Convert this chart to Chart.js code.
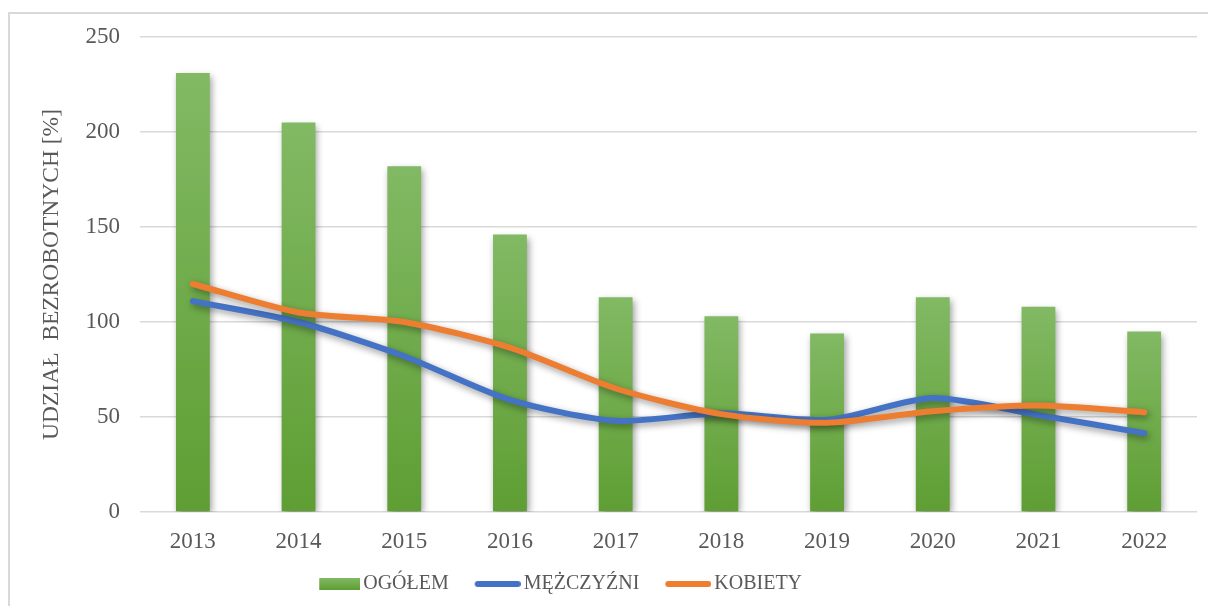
<!DOCTYPE html>
<html>
<head>
<meta charset="utf-8">
<script src="https://cdn.jsdelivr.net/npm/chart.js@4/dist/chart.umd.min.js"></script>
<style>
  html, body { margin: 0; padding: 0; background: #fff; overflow: hidden; }
  #frame { position: absolute; left: 8px; top: 12px; width: 1400px; height: 800px; border: 2px solid #d9d9d9; }
  #wrap { position: absolute; left: 0; top: 0; width: 1208px; height: 606px; }
</style>
</head>
<body>
<div id="frame"></div>
<div id="wrap"><canvas id="chart" width="1208" height="606"></canvas></div>
<script>
// --- data ---
const years = ['2013', '2014', '2015', '2016', '2017', '2018', '2019', '2020', '2021', '2022'];
const ogolem = [231, 205, 182, 146, 113, 103, 94, 113, 108, 95];
const mezczyzni = [111, 100, 82, 59, 48, 52, 48.5, 60, 51, 41.5];
const kobiety = [120, 105, 100, 86.5, 65, 51.5, 47, 53, 56, 52.5];
const yTicks = [0, 50, 100, 150, 200, 250];

const GREEN_TOP = '#82b964';
const GREEN_BOTTOM = '#5e9e33';
const BLUE = '#4472c4';
const ORANGE = '#ed7d31';
const TEXT = '#595959';
const FONT = "'Liberation Serif', 'Times New Roman', serif";

// legend markers (drawn as small canvases, used as point styles)
function makeMarker(kind, color) {
  const c = document.createElement('canvas');
  c.width = 69; c.height = 14;
  const x = c.getContext('2d');
  if (kind === 'box') {
    const g = x.createLinearGradient(0, 1, 0, 13);
    g.addColorStop(0, GREEN_TOP);
    g.addColorStop(1, GREEN_BOTTOM);
    x.fillStyle = g;
    x.fillRect(28, 1, 41, 12);
  } else {
    x.strokeStyle = color;
    x.lineWidth = 6;
    x.lineCap = 'round';
    x.beginPath();
    x.moveTo(26, 7);
    x.lineTo(66, 7);
    x.stroke();
  }
  return c;
}
const markers = [makeMarker('box'), makeMarker('line', BLUE), makeMarker('line', ORANGE)];

function barGradient(ctx) {
  const chart = ctx.chart;
  if (!chart.chartArea || ctx.raw == null) return GREEN_TOP;
  const y = chart.scales.y;
  const g = chart.ctx.createLinearGradient(0, y.getPixelForValue(ctx.raw), 0, y.getPixelForValue(0));
  g.addColorStop(0, GREEN_TOP);
  g.addColorStop(1, GREEN_BOTTOM);
  return g;
}

// soft drop shadow like the office chart
const shadowPlugin = {
  id: 'shadow',
  beforeDatasetDraw(chart) {
    const c = chart.ctx;
    c.save();
    c.shadowColor = 'rgba(0,0,0,0.4)';
    c.shadowBlur = 7;
    c.shadowOffsetX = 2;
    c.shadowOffsetY = 3;
  },
  afterDatasetDraw(chart) {
    chart.ctx.restore();
  }
};

// move the legend block so it sits where the original has it
const legendShift = {
  id: 'legendShift',
  afterLayout(chart) {
    const lg = chart.legend;
    if (!lg || !lg.lineWidths) return;
    const pad = 10;
    const lw = lg.lineWidths[0];
    const x0 = (lg.left + pad + lg.right - lw) / 2;
    const visCenter = x0 + (lw + 5.75) / 2;
    const d = 558 - visCenter;
    lg.left += d;
    lg.right += d;
  }
};

new Chart(document.getElementById('chart'), {
  type: 'bar',
  data: {
    labels: years,
    datasets: [
      {
        type: 'bar',
        label: 'OGÓŁEM',
        data: ogolem,
        backgroundColor: barGradient,
        barPercentage: 0.32,
        categoryPercentage: 1,
        order: 3
      },
      {
        type: 'line',
        label: 'MĘŻCZYŹNI',
        data: mezczyzni,
        borderColor: BLUE,
        backgroundColor: BLUE,
        borderWidth: 6,
        borderCapStyle: 'round',
        borderJoinStyle: 'round',
        pointRadius: 0,
        tension: 0.25,
        order: 2
      },
      {
        type: 'line',
        label: 'KOBIETY',
        data: kobiety,
        borderColor: ORANGE,
        backgroundColor: ORANGE,
        borderWidth: 6,
        borderCapStyle: 'round',
        borderJoinStyle: 'round',
        pointRadius: 0,
        tension: 0.25,
        order: 1
      }
    ]
  },
  options: {
    responsive: false,
    animation: false,
    layout: { padding: { top: 37, left: 30, right: 11, bottom: 2 } },
    plugins: {
      tooltip: { enabled: false },
      legend: {
        position: 'bottom',
        labels: {
          usePointStyle: true,
          pointStyleWidth: 55,
          padding: 10,
          color: TEXT,
          font: { family: FONT, size: 20 },
          sort: (a, b) => a.datasetIndex - b.datasetIndex,
          generateLabels(chart) {
            const items = Chart.defaults.plugins.legend.labels.generateLabels(chart);
            items.forEach(it => { it.pointStyle = markers[it.datasetIndex]; });
            return items;
          }
        }
      }
    },
    scales: {
      x: {
        grid: { display: false, drawTicks: false },
        border: { display: false },
        ticks: { color: TEXT, font: { family: FONT, size: 23 }, padding: 16 },
        afterFit(scale) { scale.height = 52; }
      },
      y: {
        min: 0,
        max: 250,
        afterBuildTicks(scale) { scale.ticks = yTicks.map(v => ({ value: v })); },
        grid: { color: '#d9d9d9', lineWidth: 1.5, drawTicks: false },
        border: { display: false },
        ticks: { color: TEXT, font: { family: FONT, size: 23 }, padding: 20 },
        title: {
          display: true,
          text: 'UDZIAŁ  BEZROBOTNYCH [%]',
          color: TEXT,
          font: { family: FONT, size: 23.5 },
          padding: { top: 8, bottom: 0 }
        },
        afterFit(scale) { scale.width = 110; }
      }
    }
  },
  plugins: [shadowPlugin, legendShift]
});
</script>
</body>
</html>
